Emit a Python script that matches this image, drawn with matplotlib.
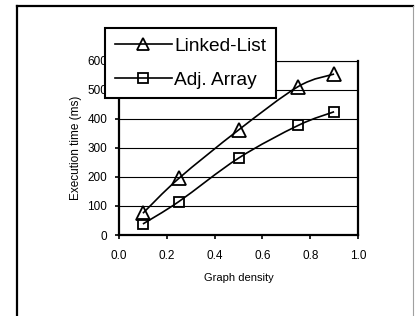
import numpy as np
import matplotlib
matplotlib.use("Agg")
from matplotlib import pyplot as plt
from matplotlib.path import Path
from matplotlib.patches import PathPatch
from matplotlib.lines import Line2D

plt.rcParams["font.family"] = ["Liberation Sans", "DejaVu Sans"]

density = [0.1, 0.25, 0.5, 0.75, 0.9]
linked_list = [75, 195, 362, 512, 555]
adj_array = [38, 115, 265, 378, 425]

fig = plt.figure(figsize=(4.17, 3.16), dpi=100)
W, H = 417, 316

# outer chart frame
fig.add_artist(Line2D([17 / W, 17 / W], [0, 1 - 6 / H], color="black", lw=1.6))
fig.add_artist(Line2D([17 / W, 413 / W], [1 - 6 / H, 1 - 6 / H], color="black", lw=1.6))
fig.add_artist(Line2D([413 / W, 413 / W], [0, 1 - 6 / H], color="#a0a0a0", lw=0.8))

ax = fig.add_axes([119 / W, 1 - 235 / H, (358 - 119) / W, (235 - 61) / H])


def smooth_path(x, y):
    # Excel style smoothed line: bezier segments through every point
    pts = np.column_stack([x, y]).astype(float)
    n = len(pts)
    verts = [pts[0]]
    codes = [Path.MOVETO]
    for i in range(n - 1):
        p0 = pts[i - 1] if i > 0 else pts[i]
        p1 = pts[i]
        p2 = pts[i + 1]
        p3 = pts[i + 2] if i + 2 < n else pts[i + 1]
        c1 = p1 + (p2 - p0) / 6
        c2 = p2 - (p3 - p1) / 6
        verts += [c1, c2, p2]
        codes += [Path.CURVE4] * 3
    return Path(verts, codes)


for ys, mk, ms in [(linked_list, "^", 10), (adj_array, "s", 7.5)]:
    ax.add_patch(PathPatch(smooth_path(density, ys), fill=False, ec="black", lw=1.2, zorder=3))
    ax.plot(density, ys, linestyle="none", marker=mk, markersize=ms,
            mfc="none", mec="black", mew=1.3, zorder=4)

ax.set_xlim(0, 1.0)
ax.set_ylim(0, 600)
ax.set_xticks(np.arange(0, 1.01, 0.2))
ax.set_xticklabels(["0.0", "0.2", "0.4", "0.6", "0.8", "1.0"])
ax.set_yticks(range(0, 601, 100))
ax.yaxis.grid(True, color="black", lw=0.8)
ax.set_axisbelow(True)
for s in ["left", "bottom", "right"]:
    ax.spines[s].set_linewidth(1.6)
ax.spines["top"].set_linewidth(0.8)
ax.tick_params(direction="out", length=3, width=1.2, labelsize=8.5, colors="black")
ax.tick_params(axis="y", pad=5.5)
ax.tick_params(axis="x", pad=8)
ax.set_xlabel("Graph density", fontsize=8, labelpad=8)
ax.set_ylabel("Execution time (ms)", fontsize=8.5, labelpad=4)

handles = [
    Line2D([], [], color="black", lw=1.2, marker="^", markersize=9, mfc="none", mew=1.3),
    Line2D([], [], color="black", lw=1.2, marker="s", markersize=7, mfc="none", mew=1.3),
]
leg = fig.legend(handles, ["Linked-List", "Adj. Array"], loc="upper left",
                 bbox_to_anchor=(105 / W, 1 - 28 / H), fontsize=13.8, frameon=True,
                 fancybox=False, edgecolor="black", framealpha=1, borderpad=0.5,
                 handlelength=3.0, handletextpad=0.1, labelspacing=0.85, borderaxespad=0)
leg.get_frame().set_linewidth(1.5)
leg.set_zorder(10)

fig.savefig("out.png", dpi=100)
